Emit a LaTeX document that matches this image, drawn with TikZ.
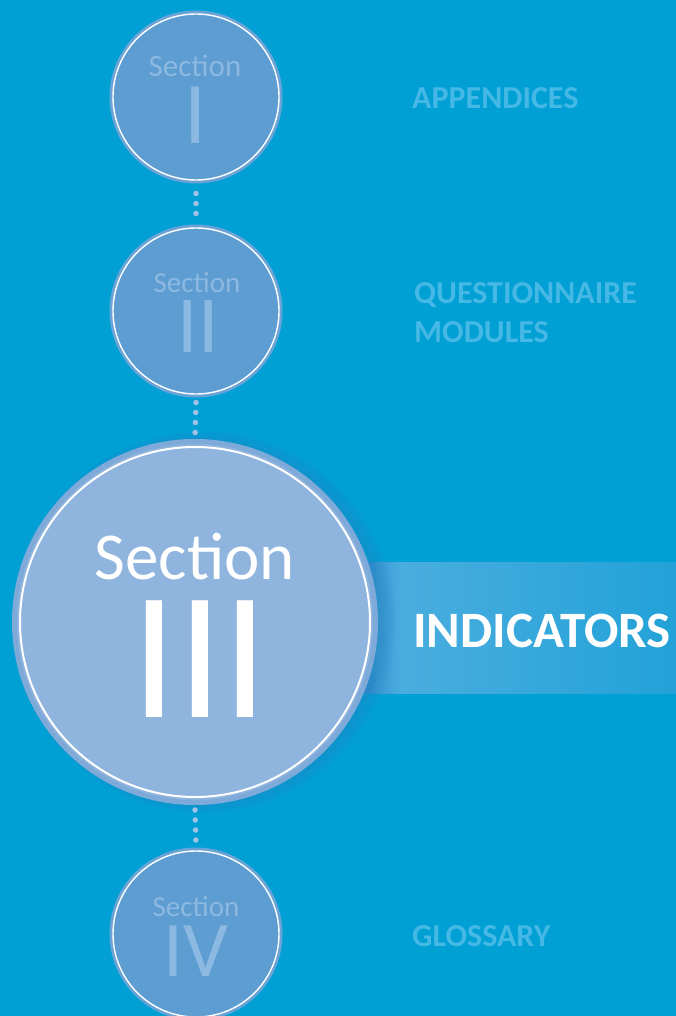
\documentclass[tikz,border=0pt]{standalone}
\usepackage{fontspec}
\setmainfont{Carlito}
\usetikzlibrary{calc}
\definecolor{bg}{HTML}{00A0D5}
\definecolor{smallfill}{HTML}{5E9DD2}
\definecolor{smallring}{HTML}{6AA3D6}
\definecolor{bigfill}{HTML}{8FB4DD}
\definecolor{bigring}{HTML}{7EAAD9}
\definecolor{faint}{HTML}{8CB9E1}
\definecolor{labelc}{HTML}{45B8E5}
\definecolor{dotc}{HTML}{A2C2E6}
\definecolor{bandlight}{HTML}{4AADDF}
\definecolor{bandright}{HTML}{22A2D8}
\definecolor{banddark}{HTML}{2A88C8}
\tikzset{
  smallcirc/.style={circle, fill=smallfill, draw=smallring, line width=3pt, minimum size=170pt, inner sep=0pt},
  bigcirc/.style={circle, fill=bigfill, draw=bigring, line width=5pt, minimum size=361pt, inner sep=0pt},
  whitering/.style={draw=white, line width=1.4pt},
  dotline/.style={draw=dotc, line width=5.5pt, line cap=round, dash pattern=on 0pt off 10pt},
  secsmall/.style={text=faint, anchor=base, inner sep=0pt, text depth=0pt, font=\fontsize{31}{36}\selectfont},
  numsmall/.style={text=faint, anchor=base, inner sep=0pt, text height=0.64em, text depth=0pt},
  sidelabel/.style={text=labelc, anchor=base west, inner sep=0pt, font=\bfseries\fontsize{32}{39}\selectfont},
}
\begin{document}
\begin{tikzpicture}[x=1pt,y=-1pt]
\fill[bg] (0,0) rectangle (676,1016);
\useasboundingbox (0,0) rectangle (676,1016);
% band for INDICATORS
\shade[left color=banddark, right color=bandlight] (360,562) rectangle (400,693);
\shade[left color=bandlight, right color=bandright] (400,562) rectangle (676,693);
% shadow of the big circle
\foreach \i in {1,...,8} {
  \fill[banddark, opacity=0.06] (199+\i*0.6,622) circle ({182+\i*1.2});
}
% circles
\node[smallcirc] (c1) at (196,97) {};
\node[smallcirc] (c2) at (196,311) {};
\node[bigcirc] (c3) at (195,622) {};
\node[smallcirc] (c4) at (196,934) {};
% dotted connectors
\draw[dotline] ($(c1.south)+(0,10)$) -- ($(c2.north)+(0,-2)$);
\draw[dotline] ($(c2.south)+(0,5)$) -- ($(c3.north)+(0,-2)$);
\draw[dotline] ($(c3.south)+(0,5)$) -- ($(c4.north)+(0,-2)$);
% white inner rings
\draw[whitering] (c1) circle (83);
\draw[whitering] (c2) circle (83);
\draw[whitering, line width=2pt] (c3) circle (175);
\draw[whitering] (c4) circle (83);
% texts in circles
\node[secsmall] (s1) at (195,77) {Section};
\node[numsmall, font=\fontsize{88}{90}\selectfont] (n1) at (196,144) {I};
\node[secsmall, font=\fontsize{29}{34}\selectfont] (s2) at (197,292) {Section};
\node[numsmall, font=\fontsize{81}{84}\selectfont] (n2) at (198,352) {II};
\node[text=white, anchor=base, inner sep=0pt, text depth=0pt, font=\fontsize{67}{70}\selectfont] (s3) at (195,579) {Section};
\node[text=white, anchor=base, inner sep=0pt, text height=0.64em, text depth=0pt, font=\fontsize{182}{185}\selectfont] (n3) at (200,717) {III};
\node[secsmall, font=\fontsize{29}{34}\selectfont] (s4) at (196,916) {Section};
\node[numsmall, font=\fontsize{79}{82}\selectfont] (n4) at (196,976) {IV};
% side labels
\node[sidelabel] (l1) at (412,109) {APPENDICES};
\node[sidelabel] (l2) at (414,303) {QUESTIONNAIRE};
\node[sidelabel] (l2b) at (414,342) {MODULES};
\node[text=white, anchor=base west, inner sep=0pt, font=\bfseries\fontsize{51}{54}\selectfont] (l3) at (413,647) {INDICATORS};
\node[sidelabel] (l4) at (412,946) {GLOSSARY};
\end{tikzpicture}
\end{document}
